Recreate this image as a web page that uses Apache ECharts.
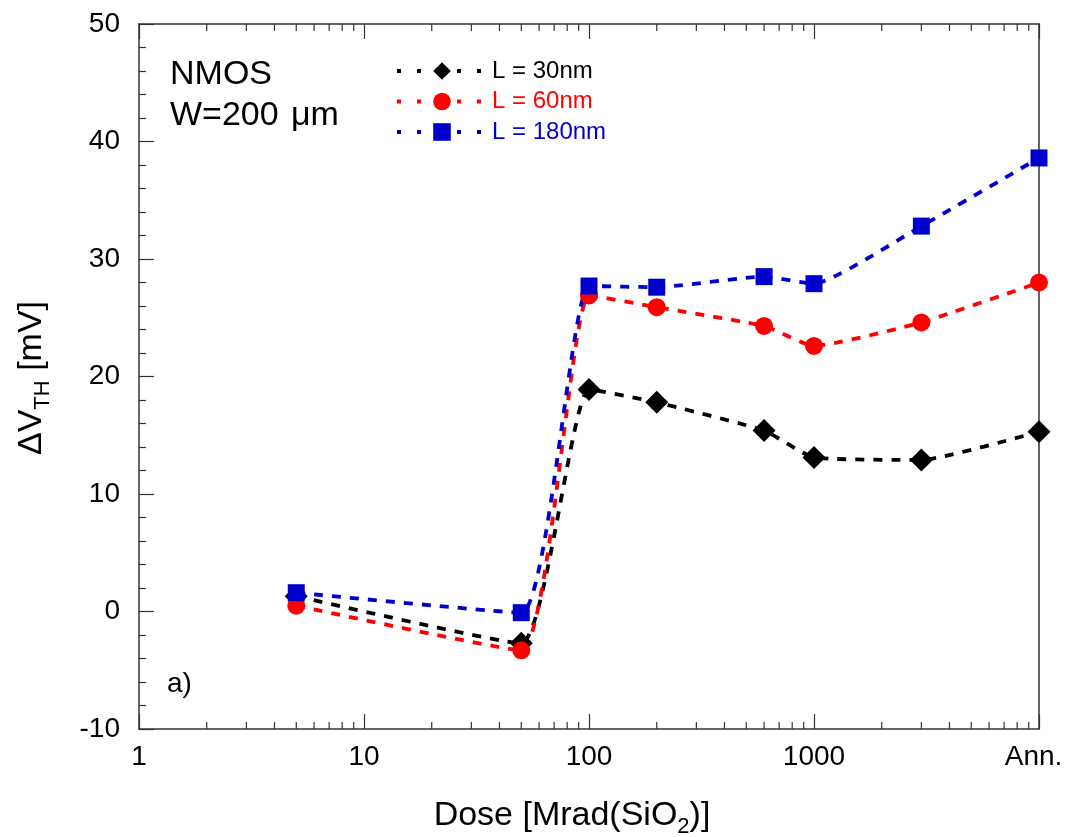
<!DOCTYPE html>
<html>
<head>
<meta charset="utf-8">
<script src="https://cdn.jsdelivr.net/npm/echarts@6/dist/echarts.min.js"></script>
<style>html,body{margin:0;padding:0;background:#fff}#c{width:1066px;height:837px}</style>
</head>
<body>
<div id="c"></div>
<script>
// ---- data ----
var doses = [5, 50, 100, 200, 600, 1000, 3000, 10000]; // 10000 = "Ann."
var l30 = [1.3, -2.7, 18.9, 17.8, 15.4, 13.1, 12.9, 15.3];
var l60 = [0.5, -3.3, 26.9, 25.9, 24.3, 22.6, 24.6, 28.0];
var l180 = [1.6, -0.1, 27.7, 27.6, 28.5, 27.9, 32.8, 38.6];
var seriesNames = ['L = 30nm', 'L = 60nm', 'L = 180nm'];
var xTickLabels = {1: '1', 10: '10', 100: '100', 1000: '1000', 10000: '{r|Ann.}'};
var minorX = [];
[1, 10, 100, 1000].forEach(function (d) { for (var m = 2; m <= 9; m++) minorX.push(m * d); });

var FONT = '"Liberation Sans", Arial, sans-serif';
var AX = '#333';

function pairs(vals) { return doses.map(function (d, i) { return [d, vals[i]]; }); }

var chart = echarts.init(document.getElementById('c'));
var lineCommon = { type: 'line', smooth: 0.15, clip: false };

chart.setOption({
  animation: false,
  backgroundColor: '#fff',
  grid: { left: 139, right: 27, top: 24, bottom: 108, containLabel: false, outerBoundsMode: 'none' },
  legend: {
    left: 390, top: 54, orient: 'vertical', itemGap: 6.5,
    itemWidth: 90, itemHeight: 22,
    lineStyle: { type: [4, 16], width: 4 },
    textStyle: { fontFamily: FONT, fontSize: 24, lineHeight: 22 },
    data: [
      { name: seriesNames[0], textStyle: { color: '#000' } },
      { name: seriesNames[1], textStyle: { color: '#ff0000' } },
      { name: seriesNames[2], textStyle: { color: '#0000cc' } }
    ]
  },
  xAxis: [{
    type: 'log', logBase: 10, min: 1, max: 10000, position: 'bottom',
    axisLine: { show: true, onZero: false, lineStyle: { color: AX, width: 1.5 } },
    axisTick: { show: true, inside: true, length: 15, lineStyle: { color: AX, width: 1.2 } },
    axisLabel: { margin: 14, fontFamily: FONT, fontSize: 28, color: '#000',
      rich: { r: { fontFamily: FONT, fontSize: 28, color: '#000', padding: [0, 11, 0, 0] } },
      formatter: function (v) { return xTickLabels[Math.round(v)] || ''; } },
    splitLine: { show: false }
  }, {
    type: 'log', logBase: 10, min: 1, max: 10000, position: 'top',
    axisLine: { show: true, onZero: false, lineStyle: { color: AX, width: 1.5 } },
    axisTick: { show: true, inside: true, length: 15, lineStyle: { color: AX, width: 1.2 } },
    axisLabel: { show: false },
    splitLine: { show: false }
  }],
  yAxis: [{
    type: 'value', min: -10, max: 50, interval: 10, position: 'left',
    axisLine: { show: true, onZero: false, lineStyle: { color: AX, width: 1.5 } },
    axisTick: { show: true, inside: true, length: 15, lineStyle: { color: AX, width: 1.2 } },
    minorTick: { show: true, splitNumber: 5, length: 7, lineStyle: { color: AX, width: 1.2 } },
    axisLabel: { margin: 19, fontFamily: FONT, fontSize: 28, color: '#000' },
    splitLine: { show: false }
  }, {
    type: 'value', min: -10, max: 50, interval: 10, position: 'right',
    axisLine: { show: true, onZero: false, lineStyle: { color: AX, width: 1.5 } },
    axisTick: { show: false }, axisLabel: { show: false }, splitLine: { show: false }
  }],
  graphic: [
    { type: 'text', left: 170, top: 58, style: { text: 'NMOS', font: '34px ' + FONT, fill: '#000' } },
    { type: 'text', left: 170, top: 99, style: { text: 'W=200', font: '34px ' + FONT, fill: '#000' } },
    { type: 'text', left: 291, top: 99, style: { text: 'μm', font: '34px ' + FONT, fill: '#000' } },
    { type: 'text', left: 167, top: 670, style: { text: 'a)', font: '28px ' + FONT, fill: '#000' } },
    { type: 'text', x: 572, y: 816, style: {
        text: '{a|Dose [Mrad(SiO}{s|2}{a|)]}', align: 'center', verticalAlign: 'middle',
        rich: { a: { fontFamily: FONT, fontSize: 34, color: '#000', lineHeight: 44, verticalAlign: 'middle' },
                s: { fontFamily: FONT, fontSize: 22, color: '#000', lineHeight: 22, verticalAlign: 'bottom' } } } },
    { type: 'text', x: 32, y: 378, rotation: Math.PI / 2, style: {
        text: '{a|ΔV}{s|TH}{a| [mV]}', align: 'center', verticalAlign: 'middle',
        rich: { a: { fontFamily: FONT, fontSize: 34, color: '#000', lineHeight: 44, verticalAlign: 'middle' },
                s: { fontFamily: FONT, fontSize: 22, color: '#000', lineHeight: 22, verticalAlign: 'bottom' } } } }
  ],
  series: [
    {
      type: 'custom', silent: true, clip: false, xAxisIndex: 0, yAxisIndex: 0,
      data: minorX.map(function (v) { return [v]; }),
      renderItem: function (params, api) {
        var v = api.value(0);
        var b = api.coord([v, -10]);
        var t = api.coord([v, 50]);
        var st = { stroke: AX, lineWidth: 1.2 };
        return { type: 'group', children: [
          { type: 'line', shape: { x1: b[0], y1: b[1], x2: b[0], y2: b[1] - 7 }, style: st },
          { type: 'line', shape: { x1: t[0], y1: t[1], x2: t[0], y2: t[1] + 7 }, style: st }
        ] };
      }
    },
    Object.assign({}, lineCommon, {
      name: seriesNames[0], data: pairs(l30), symbol: 'diamond', symbolSize: 23,
      itemStyle: { color: '#000' }, lineStyle: { color: '#000', width: 3.8, type: [9, 9] }
    }),
    Object.assign({}, lineCommon, {
      name: seriesNames[1], data: pairs(l60), symbol: 'circle', symbolSize: 18,
      itemStyle: { color: '#ff0000' }, lineStyle: { color: '#ff0000', width: 3.8, type: [9, 9] }
    }),
    Object.assign({}, lineCommon, {
      name: seriesNames[2], data: pairs(l180), symbol: 'rect', symbolSize: 17,
      itemStyle: { color: '#0000cc' }, lineStyle: { color: '#0000cc', width: 3.8, type: [9, 9] }
    })
  ]
});
</script>
</body>
</html>
